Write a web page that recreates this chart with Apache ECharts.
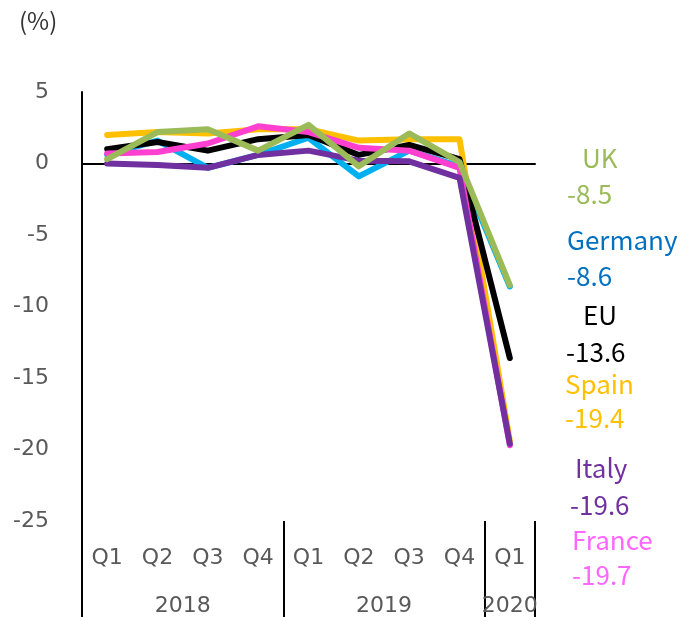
<!DOCTYPE html>
<html>
<head>
<meta charset="utf-8">
<script src="https://cdn.jsdelivr.net/npm/echarts@6/dist/echarts.min.js"></script>
<style>
  html, body { margin: 0; padding: 0; background: #fff; }
  #chart { width: 680px; height: 617px; }
</style>
</head>
<body>
<div id="chart"></div>
<script>
// quarters on the x axis, years underneath
const quarters = ['Q1', 'Q2', 'Q3', 'Q4', 'Q1', 'Q2', 'Q3', 'Q4', 'Q1']
const years = ['2018', '2019', '2020']
const yearCenters = [2, 6, 8.5] // position of the year label in category units
const yearBreaks = [0, 4, 8, 9]

// growth rates (%)
const spain = [2.0, 2.2, 2.1, 2.4, 2.4, 1.6, 1.7, 1.7, -19.4]
const germany = [0.6, 1.6, -0.3, 0.6, 1.8, -0.9, 0.9, -0.2, -8.6]
const eu = [1.0, 1.5, 0.9, 1.7, 2.0, 0.6, 1.3, 0.3, -13.6]
const france = [0.7, 0.8, 1.4, 2.6, 2.2, 1.1, 0.9, -0.3, -19.7]
const italy = [0.0, -0.1, -0.3, 0.6, 0.9, 0.2, 0.15, -1.0, -19.6]
const uk = [0.3, 2.2, 2.4, 0.9, 2.7, -0.2, 2.1, 0.1, -8.5]

const yTicks = { min: -25, max: 5, interval: 5 }

const chart = echarts.init(document.getElementById('chart'))

// drawing order (last one on top)
const seriesList = [
  { name: 'Spain', data: spain, color: '#FFC000', labelColor: '#FFC000' },
  { name: 'Germany', data: germany, color: '#00B0F0', labelColor: '#0070C0' },
  { name: 'EU', data: eu, color: '#000000', labelColor: '#000000' },
  { name: 'France', data: france, color: '#FF3FCF', labelColor: '#FF66FF' },
  { name: 'Italy', data: italy, color: '#7030A0', labelColor: '#7030A0' },
  { name: 'UK', data: uk, color: '#9BBB59', labelColor: '#9BBB59' }
]

// where the name / last value pairs sit on the right
const labelPos = {
  UK: [[582, 158], [567, 194]],
  Germany: [[567, 240], [567, 276]],
  EU: [[583, 315], [566, 352]],
  Spain: [[565, 384], [565, 418]],
  Italy: [[575, 468], [570, 505]],
  France: [[572, 540], [572, 575]]
}

const labelFont = '26px "Noto Sans CJK JP"'
const graphic = []
seriesList.forEach(s => {
  const last = s.data[s.data.length - 1]
  const pos = labelPos[s.name]
  graphic.push({
    type: 'text', x: pos[0][0], y: pos[0][1],
    style: { text: s.name, fill: s.labelColor, font: labelFont, verticalAlign: 'middle' }
  })
  graphic.push({
    type: 'text', x: pos[1][0], y: pos[1][1],
    style: { text: String(last), fill: s.labelColor, font: labelFont, verticalAlign: 'middle' }
  })
})

const axisFont = { fontFamily: 'DejaVu Sans', fontSize: 22, color: '#595959' }

chart.setOption({
  animation: false,
  title: {
    text: '(%)',
    left: 14,
    top: 4,
    textStyle: { fontFamily: 'Noto Sans CJK JP', fontSize: 24, fontWeight: 'normal', color: '#333' }
  },
  grid: { left: 82, right: 145, top: 92, bottom: 96 },
  xAxis: [
    {
      // zero line
      type: 'category',
      data: quarters,
      boundaryGap: true,
      axisLine: { onZero: true, lineStyle: { color: '#000', width: 2 } },
      axisTick: { show: false },
      axisLabel: { show: false },
      splitLine: { show: false }
    },
    {
      type: 'category',
      data: quarters,
      boundaryGap: true,
      position: 'bottom',
      axisLine: { show: false, onZero: false },
      axisTick: { show: false },
      axisLabel: { ...axisFont, margin: 26, interval: 0 }
    },
    {
      type: 'value',
      min: 0,
      max: 9,
      position: 'bottom',
      axisLine: { show: false, onZero: false },
      splitLine: { show: false },
      axisTick: {
        show: true,
        customValues: yearBreaks,
        length: 96,
        lineStyle: { color: '#000', width: 2 }
      },
      axisLabel: {
        ...axisFont,
        margin: 74,
        customValues: yearCenters,
        formatter: v => years[yearCenters.indexOf(v)] || ''
      }
    }
  ],
  yAxis: {
    type: 'value',
    min: yTicks.min,
    max: yTicks.max,
    interval: yTicks.interval,
    axisLine: { show: true, onZero: false, lineStyle: { color: '#000', width: 2 } },
    axisTick: { show: false },
    splitLine: { show: false },
    axisLabel: { ...axisFont, margin: 33 }
  },
  series: seriesList.map(s => ({
    name: s.name,
    type: 'line',
    xAxisIndex: 0,
    data: s.data,
    symbol: 'none',
    lineStyle: { color: s.color, width: 6, join: 'round', cap: 'round' },
    itemStyle: { color: s.color }
  })),
  graphic: graphic
})
</script>
</body>
</html>
